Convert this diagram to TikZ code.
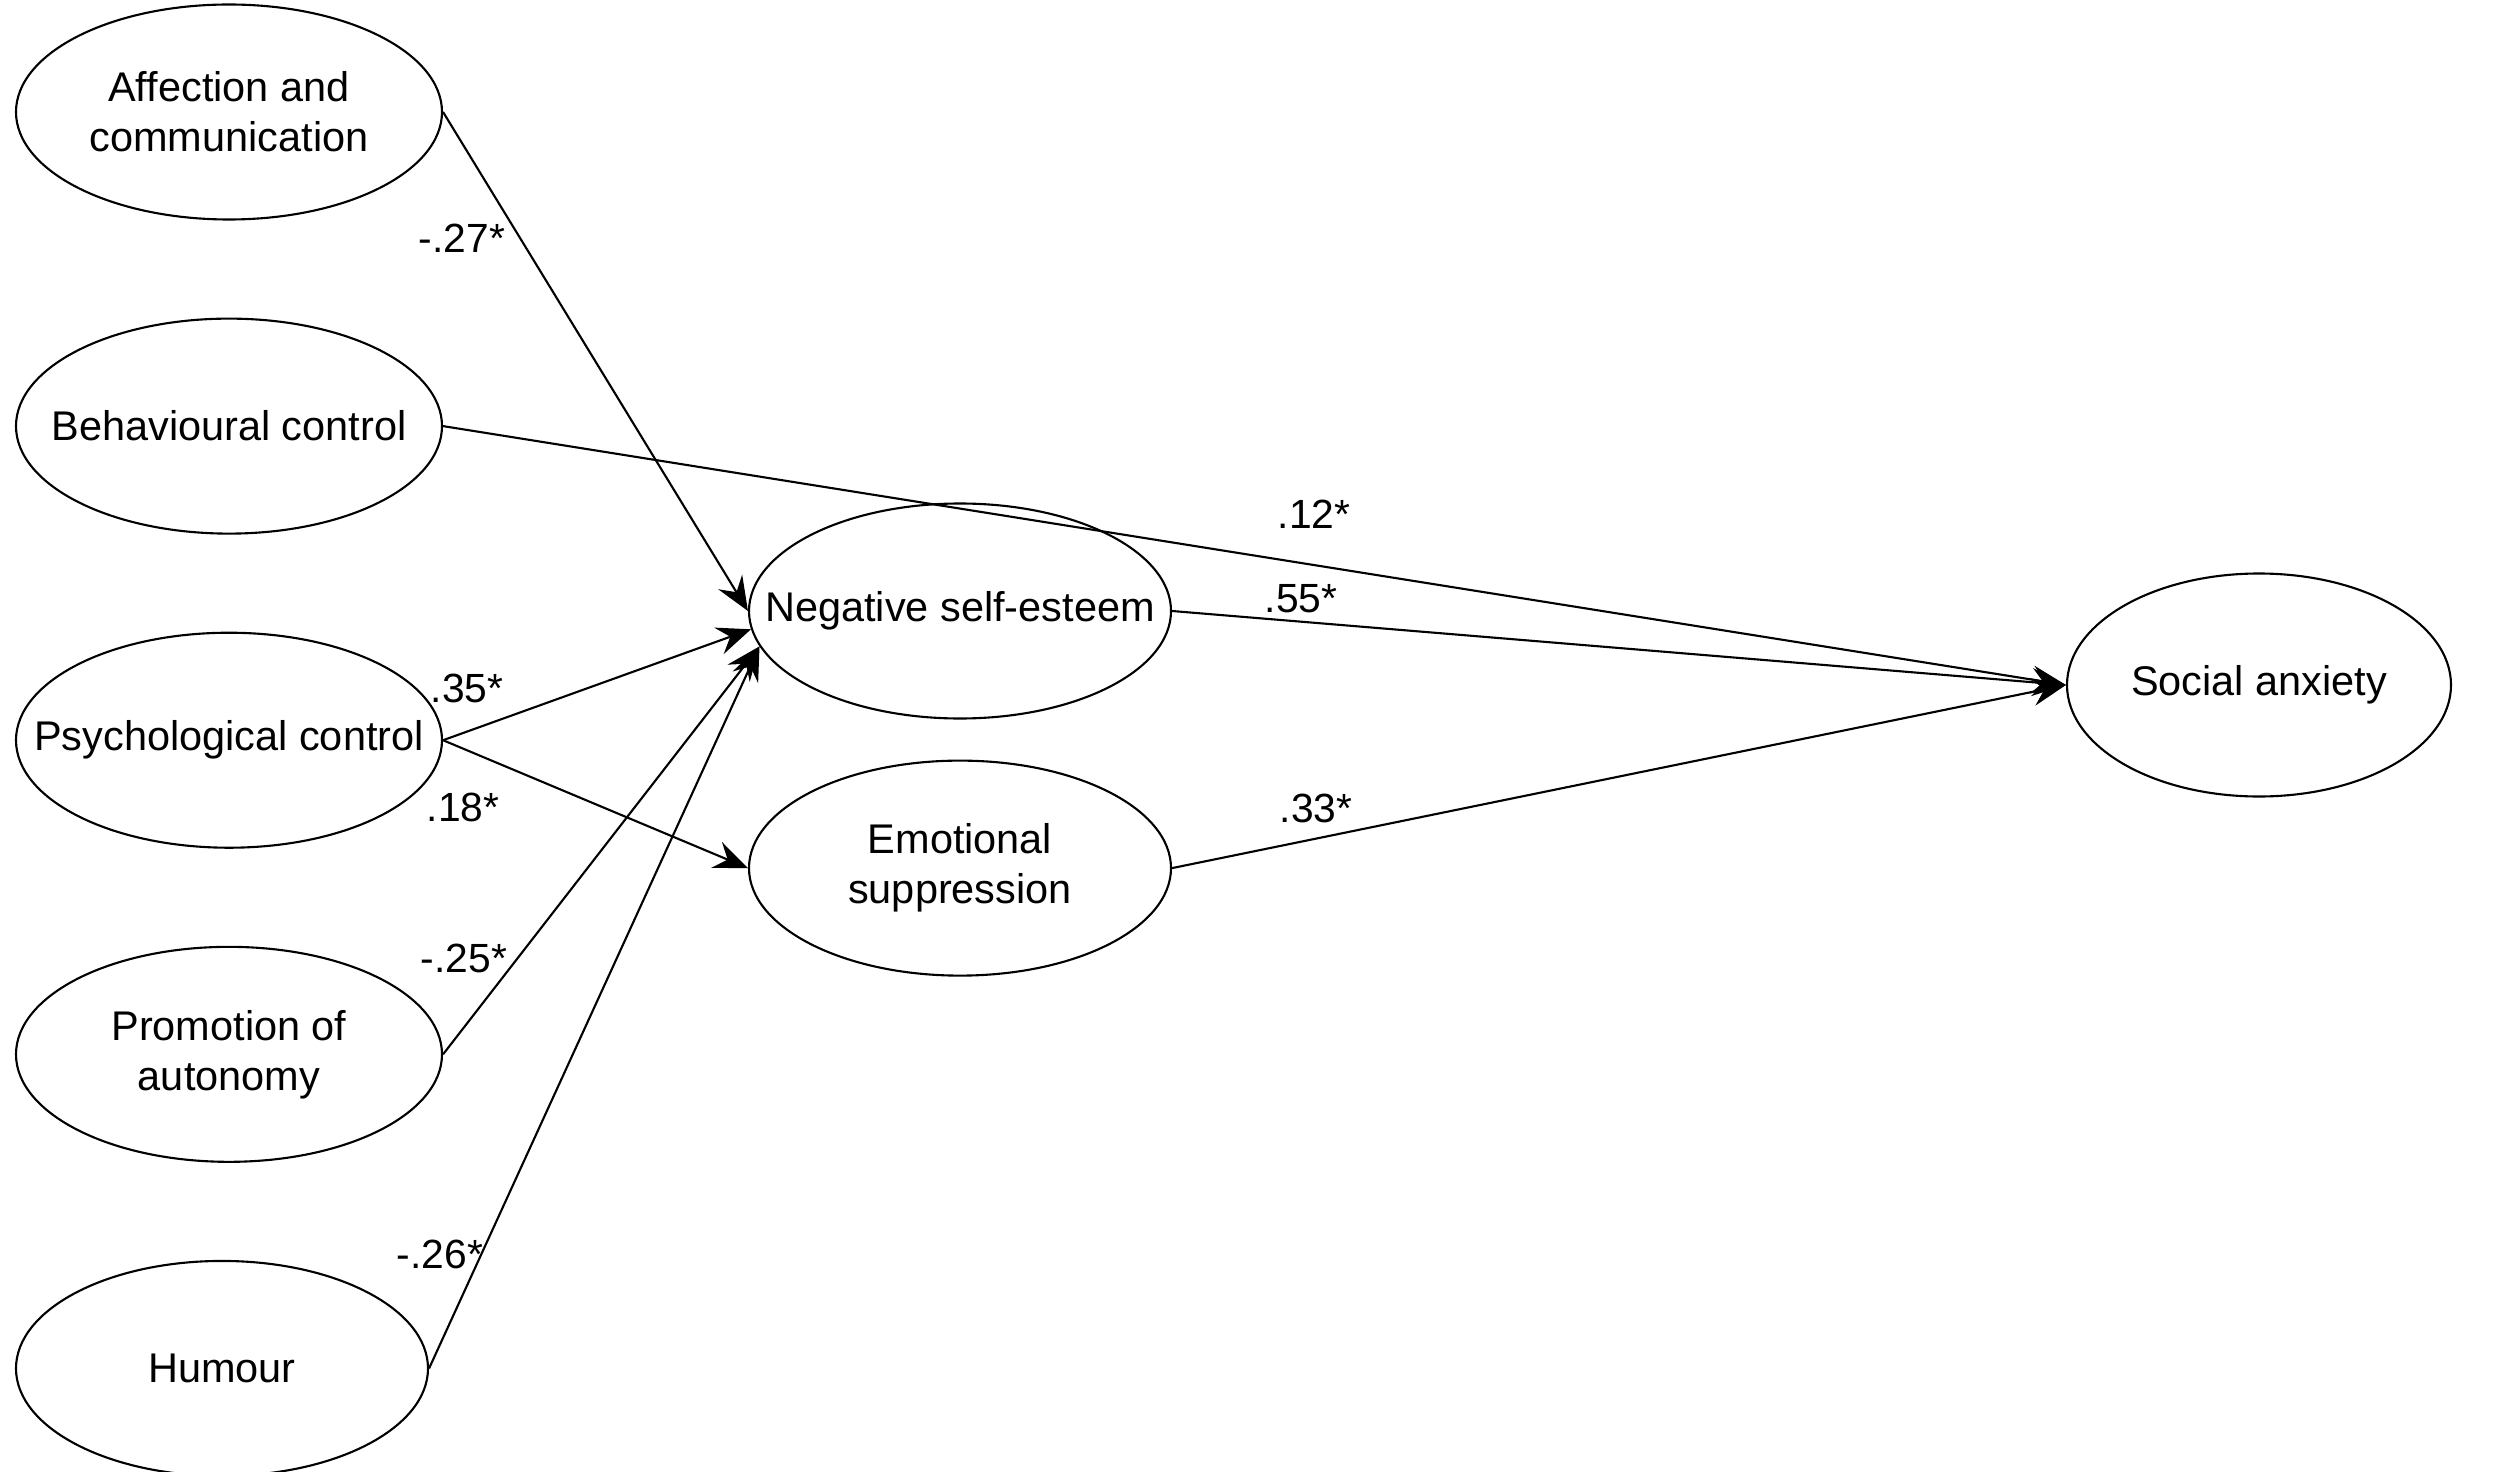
\documentclass[tikz,border=0pt]{standalone}
\usepackage{fontspec}
\setmainfont{Liberation Sans}
\usetikzlibrary{shapes.geometric, positioning, arrows.meta}

\begin{document}
\begin{tikzpicture}[node distance=0.97cm and 1cm,
  latent/.style={ellipse, draw=black, line width=0.6pt, minimum width=4.26cm,
                 minimum height=2.15cm, inner xsep=-1cm, inner ysep=0pt,
                 align=center, font=\fontsize{11.8}{14.2}\selectfont},
  coef/.style={inner sep=0pt, font=\fontsize{11.6}{14}\selectfont},
  arrow/.style={-{Stealth[length=3.4mm, width=2.8mm, inset=1.2mm]}, line width=0.6pt}]

\useasboundingbox (0,0) rectangle (25,14.71);

\node[latent] (aff) at (2.29,13.59) {Affection and\\communication};
\node[latent, below=of aff] (beh) {Behavioural control};
\node[latent, below=of beh] (psy) {Psychological control};
\node[latent, below=of psy] (pro) {Promotion of\\autonomy};
\node[latent, minimum width=4.12cm, below=of pro, xshift=-0.07cm] (hum) {Humour};

\node[latent, minimum width=4.22cm] (nse) at (9.60,8.60) {Negative self-esteem};
\node[latent, minimum width=4.22cm, below=0.4cm of nse] (emo) {Emotional\\suppression};

\node[latent, minimum width=3.84cm, minimum height=2.23cm] (soc) at (22.59,7.86) {Social anxiety};

\draw[arrow] (aff.east) -- (nse.west);
\draw[arrow] (psy.east) -- (nse.185);
\draw[arrow] (pro.east) -- (nse.190);
\draw[arrow] (hum.east) -- (nse.190);
\draw[arrow] (psy.east) -- (emo.west);
\draw[arrow] (beh.east) -- (soc.west);
\draw[arrow] (nse.east) -- (soc.west);
\draw[arrow] (emo.east) -- (soc.west);

\node[coef] (c27) at (4.62,12.33) {-.27*};
\node[coef] (c35) at (4.67,7.83) {.35*};
\node[coef] (c18) at (4.63,6.64) {.18*};
\node[coef] (c25) at (4.64,5.13) {-.25*};
\node[coef] (c26) at (4.40,2.17) {-.26*};
\node[coef] (c12) at (13.14,9.57) {.12*};
\node[coef] (c55) at (13.01,8.72) {.55*};
\node[coef] (c33) at (13.16,6.63) {.33*};
\end{tikzpicture}
\end{document}
